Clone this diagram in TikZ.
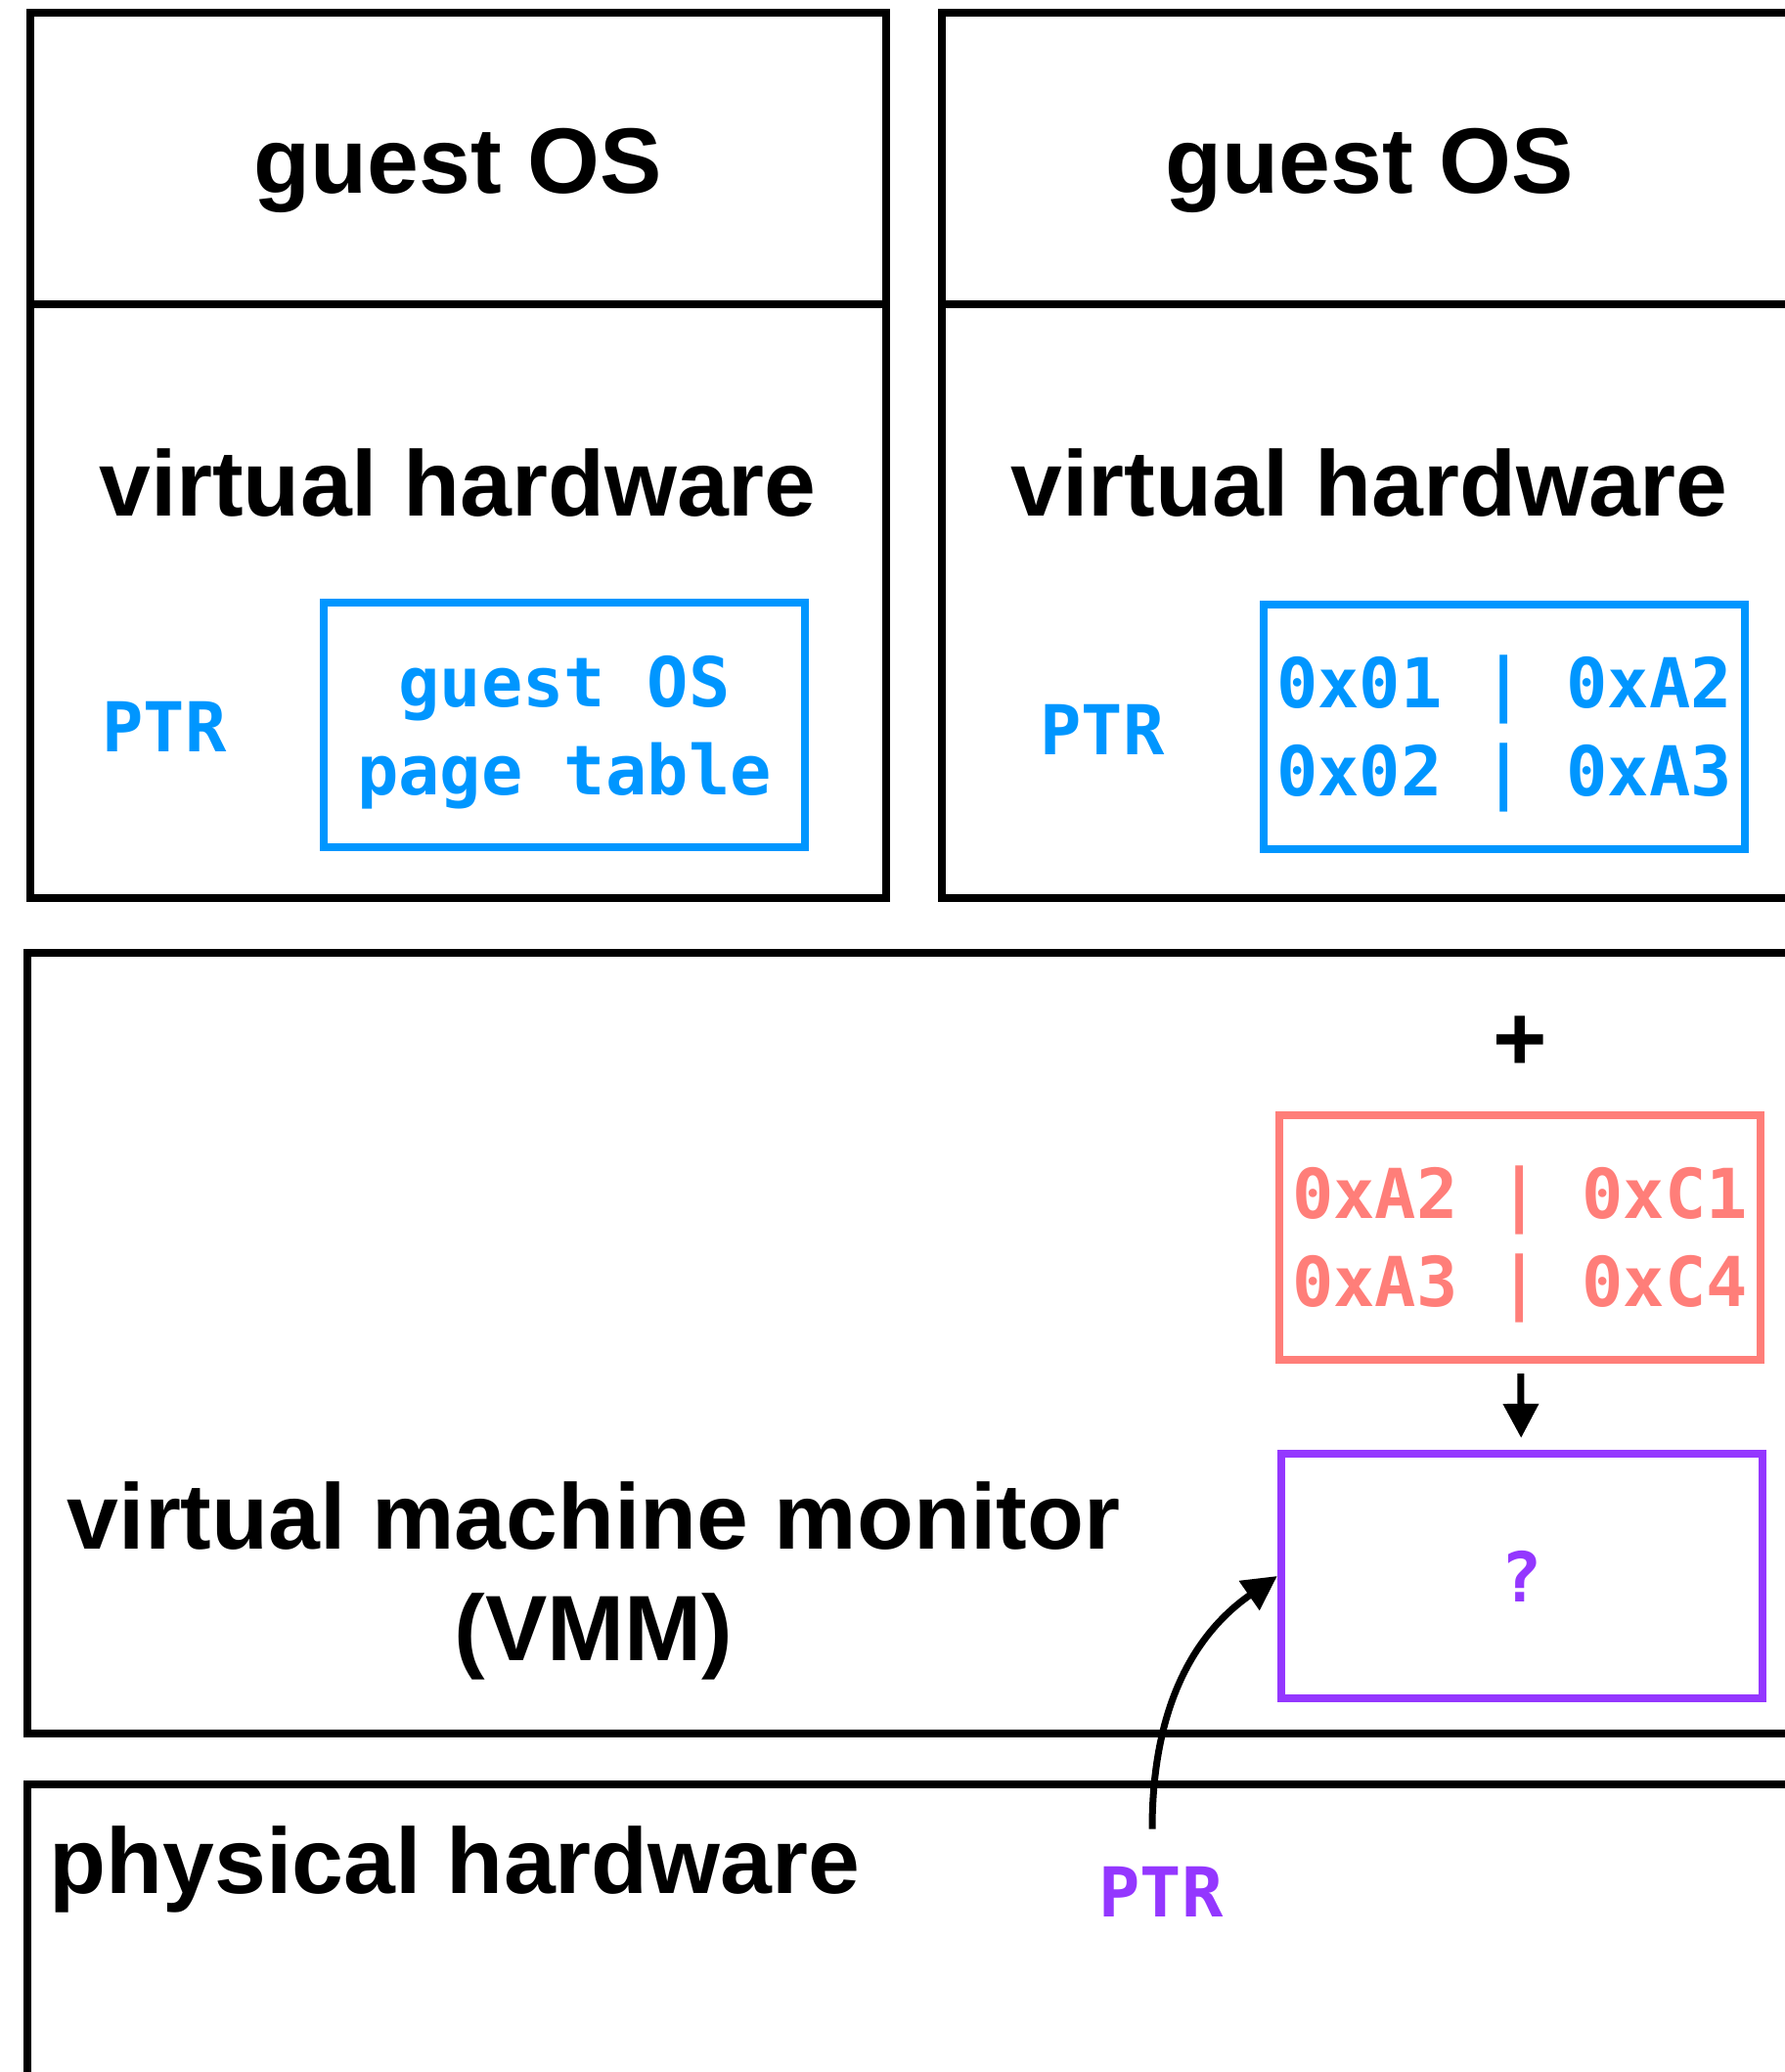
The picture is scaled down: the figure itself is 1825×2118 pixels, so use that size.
\documentclass[tikz,border=0pt]{standalone}
\usepackage{fontspec}
\setmainfont{Liberation Sans}
\newfontfamily\codefont{DejaVu Sans Mono}
\usetikzlibrary{arrows.meta}

\definecolor{ptblue}{RGB}{0,150,255}
\definecolor{ptpink}{RGB}{255,126,121}
\definecolor{ptpurple}{RGB}{148,55,255}
\newcommand{\rowstrut}{\rule{0pt}{19.4pt}}

\begin{document}
\begin{tikzpicture}[x=0.01cm,y=-0.01cm,
  wall/.style={line width=0.08cm},
  lbl/.style={inner sep=0pt,anchor=base,font=\fontsize{27}{32}\selectfont\bfseries},
  mono/.style={inner sep=0pt,font=\codefont\bfseries\fontsize{20}{25.6}\selectfont},
  ptbox/.style={draw,line width=0.08cm,minimum width=4.92cm,minimum height=2.5cm,align=center,font=\codefont\bfseries\fontsize{20}{25.6}\selectfont},
  ptarrow/.style={line width=0.07cm,-{Triangle[length=0.35cm,width=0.35cm]}}]
\useasboundingbox (0,0) rectangle (1825,2118);
\clip (0,0) rectangle (1825,2118);

\draw[wall] (31,13) rectangle (906,918);
\draw[wall] (31,311) -- (906,311);
\draw[wall] (963,13) rectangle (1900,918);
\draw[wall] (963,311) -- (1900,311);
\draw[wall] (28,974) rectangle (1900,1772);
\draw[wall] (28,1824) rectangle (1900,2200);

\node[lbl] (guestl) at (468,197) {guest OS};
\node[lbl] (hwl) at (468,527) {virtual hardware};
\node[lbl] (guestr) at (1400,197) {guest OS};
\node[lbl] (hwr) at (1400,527) {virtual hardware};
\node[lbl] (vmm) at (607,1583) {virtual machine monitor};
\node[lbl] (vmmabbr) at (607,1697) {(VMM)};
\node[lbl,anchor=base west] (phys) at (50,1935) {physical hardware};

\node[mono,text=ptblue] (ptrl) at (168,743) {PTR};
\node[ptbox,draw=ptblue,text=ptblue] (gptl) at (577,741) {\rowstrut guest OS\\page table};
\node[mono,text=ptblue] (ptrr) at (1127,746) {PTR};
\node[ptbox,draw=ptblue,text=ptblue] (gptr) at (1538,743) {\rowstrut 0x01 | 0xA2\\0x02 | 0xA3};

\node[lbl,anchor=center] (plus) at (1554,1067) {+};
\node[ptbox,draw=ptpink,text=ptpink] (spt) at (1554,1265) {\rowstrut 0xA2 | 0xC1\\0xA3 | 0xC4};
\node[ptbox,draw=ptpurple,text=ptpurple] (shadow) at (1556,1611) {?};
\node[mono,text=ptpurple] (ptrv) at (1187,1934) {PTR};

\draw[ptarrow,shorten <=0.1cm,shorten >=0.12cm] (spt) -- (shadow);
\draw[ptarrow,shorten <=0.38cm] ([xshift=-0.09cm]ptrv.north) .. controls +(0,-188) and +(-66,46) .. (shadow.west);

\end{tikzpicture}
\end{document}
